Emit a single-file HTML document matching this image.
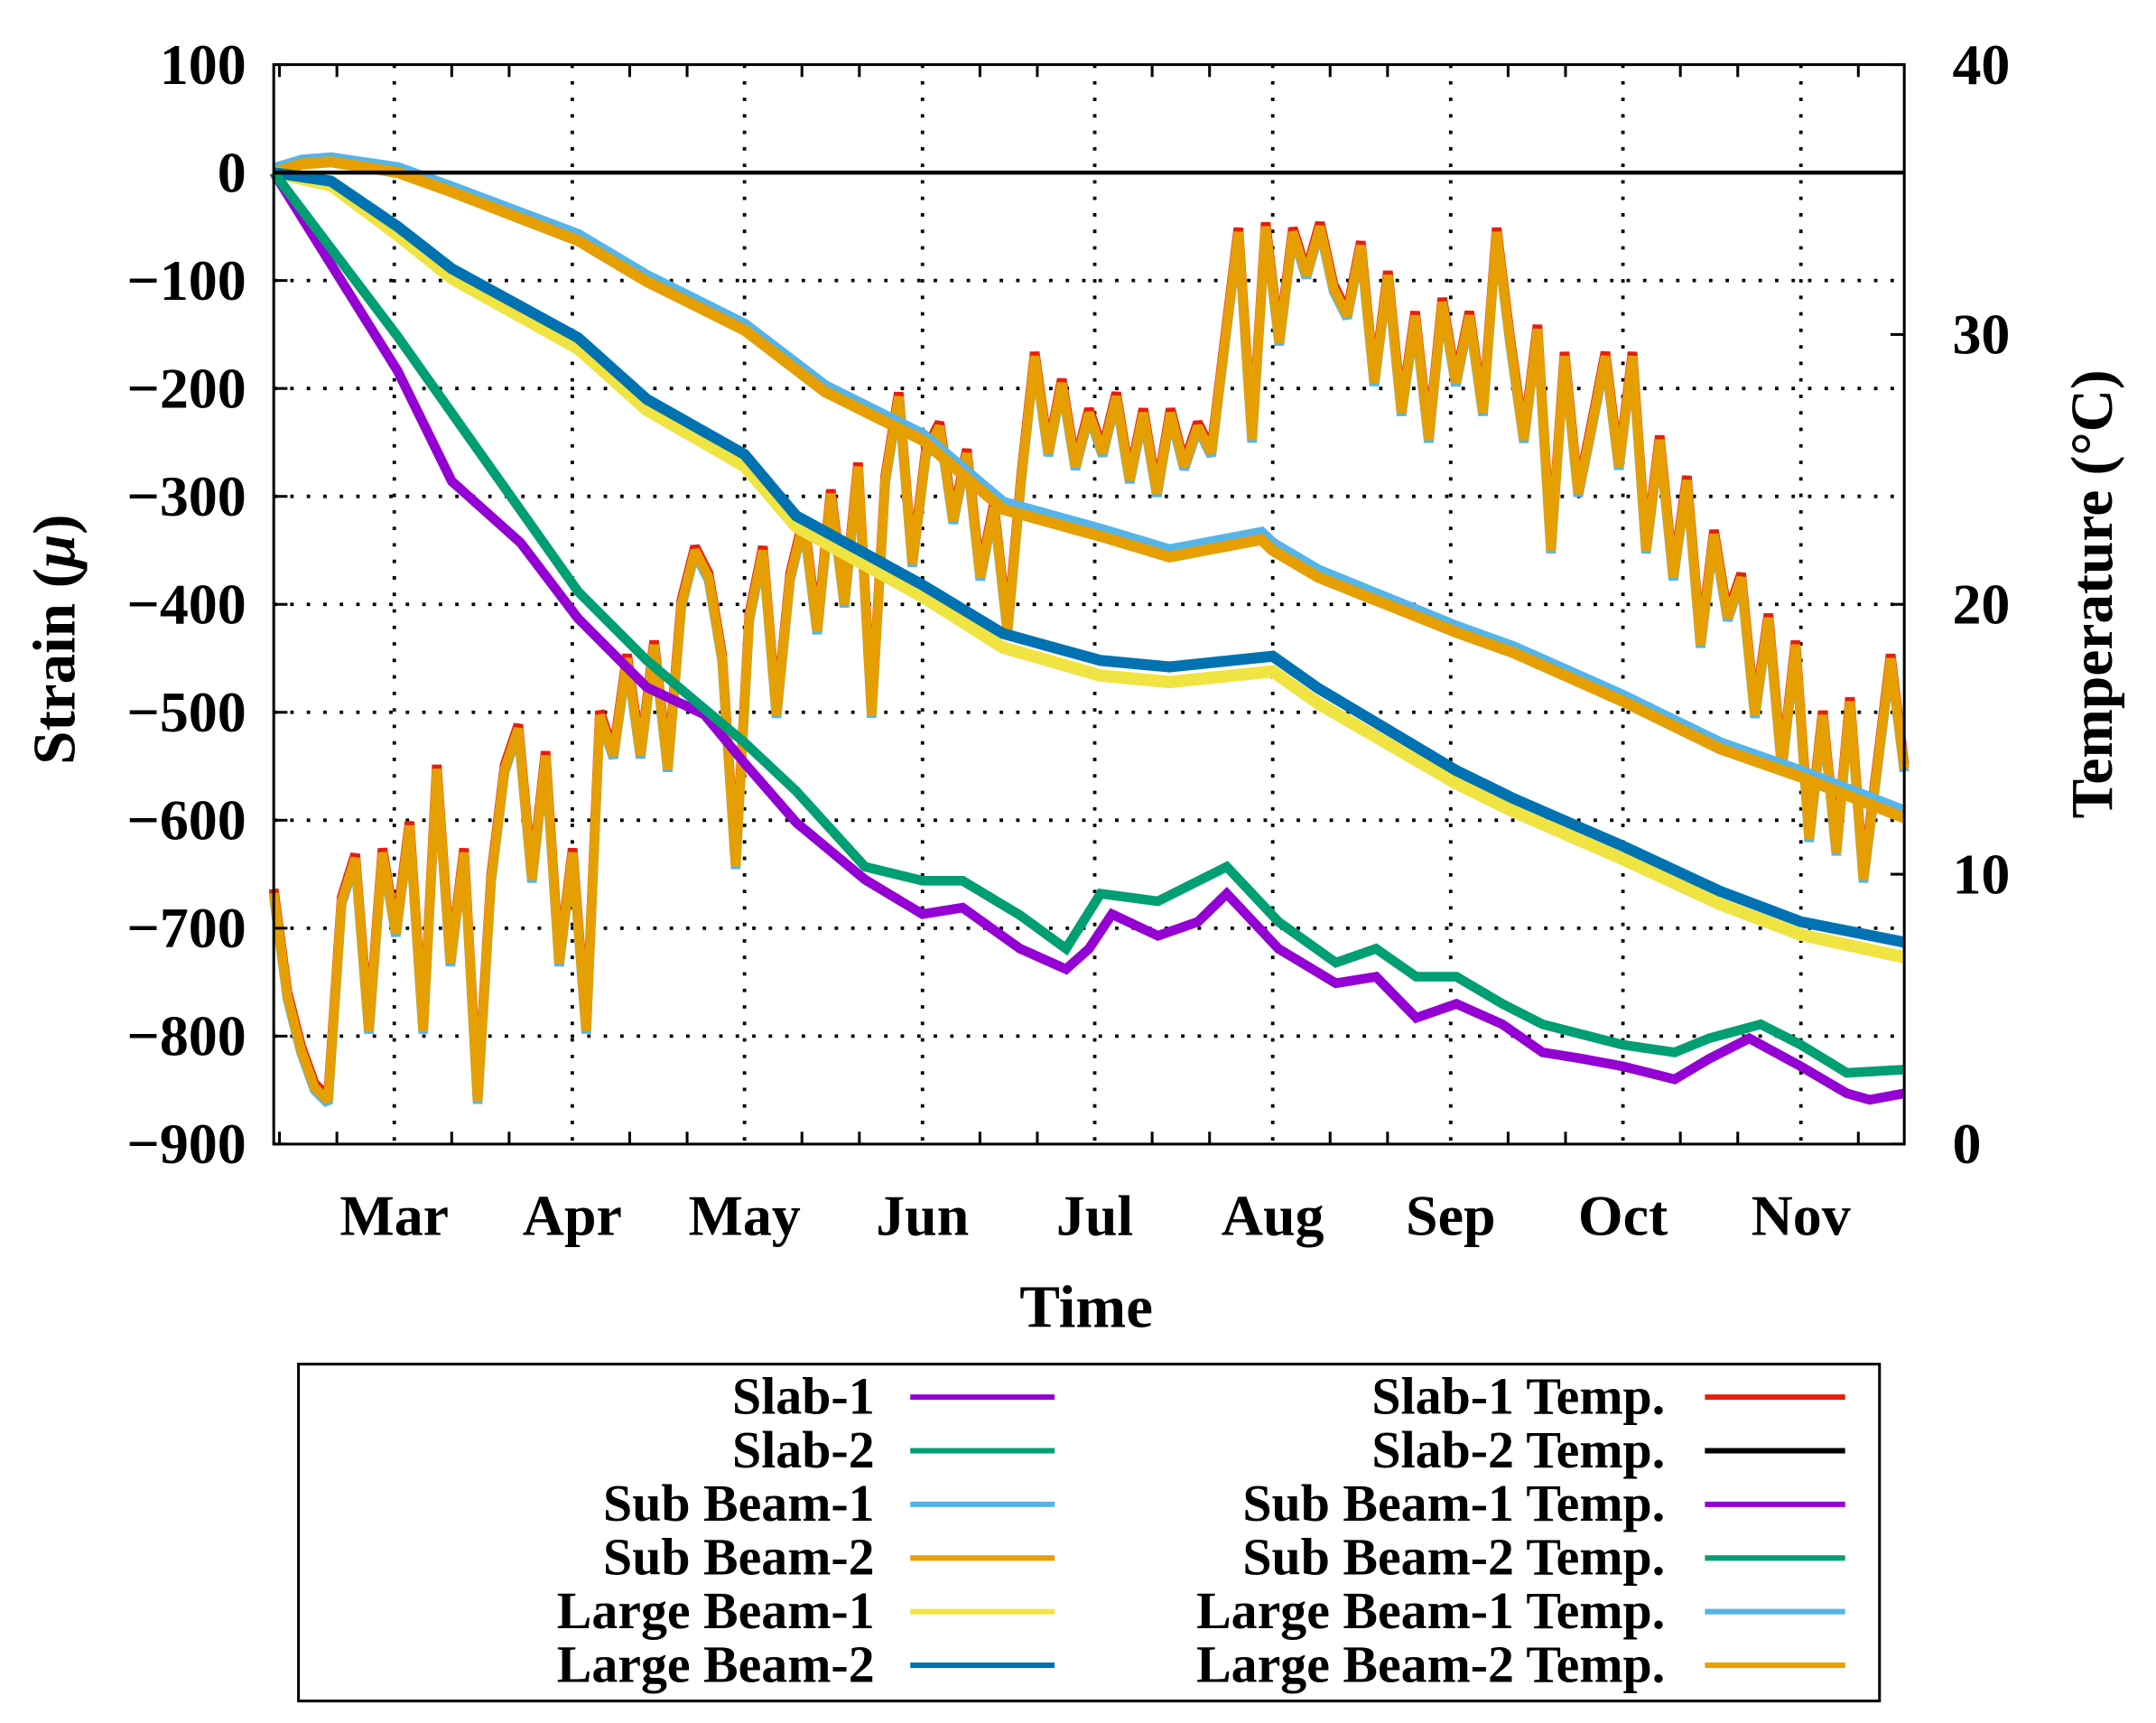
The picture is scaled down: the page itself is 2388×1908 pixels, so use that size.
<!DOCTYPE html>
<html><head><meta charset="utf-8"><style>
html,body{margin:0;padding:0;background:#fff}
svg{display:block}
text{font-family:"Liberation Serif",serif;font-weight:bold;fill:#000}
</style></head><body>
<svg id="chart" width="2388" height="1908" viewBox="0 0 1568 1253" xmlns="http://www.w3.org/2000/svg">
<g id="grid"></g>
<g id="temps"></g>
<g id="strains"></g>
<line x1="199" x2="1385" y1="125.5" y2="125.5" stroke="#000" stroke-width="3"/>
<rect x="199" y="47" width="1186" height="785" fill="none" stroke="#000" stroke-width="2"/>
<g id="axes"></g>
<text x="790" y="965" font-size="44" text-anchor="middle">Time</text>
<text transform="translate(54,465) rotate(-90)" font-size="44" text-anchor="middle">Strain (<tspan font-style="italic">μ</tspan>)</text>
<text transform="translate(1536,432) rotate(-90)" font-size="43" text-anchor="middle">Temperature (°C)</text>
<g id="legend">
<rect x="217" y="992" width="1150" height="245" fill="#fff" stroke="#000" stroke-width="2"/>
</g>
</svg>
<script>
// ---- data ----
const monthLabels = ["Mar","Apr","May","Jun","Jul","Aug","Sep","Oct","Nov"];
const monthDays = [21,52,82,113,143,174,205,235,266];
const strainTicks = [100,0,-100,-200,-300,-400,-500,-600,-700,-800,-900];
const tempTicks = [40,30,20,10,0];

const slab1Days = [0,21.6,31,43,53,65,75,82,91,103,113,120,130,138,142,146,154,161,166,175,185,192,199,206,214,221,228,235,244,250,257,266,274,278,284];
const slab1Vals = [0,-184,-286,-343,-413,-477,-502,-547,-602,-655,-687,-681,-719,-738,-719,-687,-707,-694,-668,-719,-751,-745,-783,-770,-789,-815,-821,-828,-840,-821,-802,-828,-853,-859,-853];
const slab2Days = [0,21.6,53,65,82,91,103,113,120,130,138,144,154,166,175,185,192,199,206,214,221,235,244,250,259,266,274,284];
const slab2Vals = [0,-152,-388,-452,-528,-573,-643,-656,-656,-688,-719,-668,-675,-643,-694,-732,-719,-745,-745,-770,-789,-808,-815,-802,-789,-808,-834,-831];
const lbDays = [0,10,21.6,31,53,65,82,91,113,127,144,156,174,182,206,216,235,252,266,284];
const lb2Vals = [0,-8,-50,-89,-153,-210,-261,-318,-382,-427,-452,-458,-448,-478,-554,-580,-624,-666,-694,-713];
const lb1Vals = [0,-12,-58,-98,-163,-220,-272,-328,-393,-440,-466,-472,-462,-492,-566,-592,-636,-678,-706,-727];
const sbDays = [0,5,10,21.6,31,53,65,82,96,113,127,144,156,172,174,182,206,216,235,252,266,284];
const sb2Vals = [0,8,10,0,-18,-63,-101,-146,-203,-248,-312,-337,-356,-340,-350,-375,-426,-445,-490,-534,-560,-598];
const sb1Vals = [3,11,13,4,-14,-58,-96,-141,-198,-243,-306,-331,-350,-334,-344,-369,-421,-440,-485,-529,-555,-592];
const tempVals = [9.3,5.5,3.5,2.1,1.6,9.0,10.6,4.2,10.8,7.8,11.8,4.2,13.9,6.7,10.8,1.6,9.8,13.9,15.4,9.8,14.4,6.7,10.8,4.2,15.9,14.4,18.0,14.4,18.5,13.9,20.0,22.0,21.0,18.0,10.3,19.5,22.0,15.9,21.0,23.1,19.0,24.1,20.0,25.1,15.9,24.6,27.7,21.5,25.6,26.6,23.1,25.6,21.0,23.6,19.0,24.6,29.2,25.6,28.2,25.1,27.1,25.6,27.7,24.6,27.1,24.1,27.1,25.1,26.6,25.6,29.7,33.8,26.1,34.0,29.7,33.8,32.2,34.0,31.7,30.7,33.3,28.2,32.2,27.1,30.7,26.1,31.2,28.2,30.7,27.1,33.8,29.7,26.1,30.2,22.0,29.2,24.1,26.6,29.2,25.1,29.2,22.0,26.1,21.0,24.6,18.5,22.6,19.5,21.0,15.9,19.5,13.9,18.5,11.3,15.9,10.8,16.4,9.8,13.9,18.0,13.9];
const legendLeft = ["Slab-1","Slab-2","Sub Beam-1","Sub Beam-2","Large Beam-1","Large Beam-2"];
const legendLeftColors = ["#9400d3","#009e73","#56b4e9","#e69f00","#f0e442","#0072b2"];
const legendRight = ["Slab-1 Temp.","Slab-2 Temp.","Sub Beam-1 Temp.","Sub Beam-2 Temp.","Large Beam-1 Temp.","Large Beam-2 Temp."];
const legendRightColors = ["#e51e10","#000000","#9400d3","#009e73","#56b4e9","#e69f00"];

// ---- scales ----
const X0=199, X1=1385, Y0=47, Y1=832, DMAX=284;
const xs = d => X0 + d*(X1-X0)/DMAX;
const ys = v => Y0 + (100 - v)*(Y1-Y0)/1000;
const yt = t => Y1 - t*(Y1-Y0)/40;
const NS="http://www.w3.org/2000/svg";
function mk(tag, attrs, parent){const e=document.createElementNS(NS,tag);for(const k in attrs)e.setAttribute(k,attrs[k]);parent.appendChild(e);return e;}

const grid=document.getElementById('grid'), axes=document.getElementById('axes');
strainTicks.forEach(v=>{
  const y=ys(v);
  if(v<100&&v>-900&&v!==0){const g=mk('line',{x1:X0,x2:X1,y1:y,y2:y,stroke:'#000','stroke-width':2.5,'stroke-dasharray':'2.5 9.5'},grid);
  
  }
  const t=mk('line',{x1:X0,x2:X0+10,y1:y,y2:y,stroke:'#000','stroke-width':2},axes);
  
  
  const l=mk('text',{x:179,y:y+14,'font-size':42,'text-anchor':'end'},axes);
  l.textContent=(v<0?'\u2212'+(-v):String(v));
  
  
});
tempTicks.forEach(v=>{
  const y=yt(v);
  const t=mk('line',{x1:X1-10,x2:X1,y1:y,y2:y,stroke:'#000','stroke-width':2},axes);
  
  
  const l=mk('text',{x:1420,y:y+14,'font-size':42},axes);
  l.textContent=String(v);
  
  
});
monthDays.forEach((d,i)=>{
  const x=xs(d);
  const g=mk('line',{x1:x,x2:x,y1:Y0,y2:Y1,stroke:'#000','stroke-width':2.5,'stroke-dasharray':'2.5 9.5'},grid);
  
  
  const l=mk('text',{x:x,y:898,'font-size':42,'text-anchor':'middle'},axes);
  l.textContent=monthLabels[i];
  
  
});
[0].concat(monthDays).forEach(d=>{
  [10,20].forEach(o=>{
    const md = d===0 ? monthDays[0]-o : d+o;
    if(md>0&&md<DMAX){
      const x=xs(md);
      const a=mk('line',{x1:x,x2:x,y1:Y1,y2:Y1-9,stroke:'#000','stroke-width':2},axes);
      
      
      const b=mk('line',{x1:x,x2:x,y1:Y0,y2:Y0+9,stroke:'#000','stroke-width':2},axes);
      
      
    }});
});

// ---- series ----
function poly(days, vals, ymap, color, w, parent, name){
  const pts=days.map((d,i)=>xs(d).toFixed(1)+','+ymap(vals[i]).toFixed(1)).join(' ');
  const p=mk('polyline',{points:pts,fill:'none',stroke:color,'stroke-width':w,'stroke-linejoin':'miter','stroke-miterlimit':2},parent);
  
  
}
const tempDays = tempVals.map((v,i)=>i*DMAX/(tempVals.length-1));
const temps=document.getElementById('temps');
poly(tempDays,tempVals,t=>yt(t)+2,'#56b4e9',7,temps,'large-beam-1-temp-line');
poly(tempDays,tempVals,t=>yt(t)-3,'#e51e10',7,temps,'slab-1-temp-line');
poly(tempDays,tempVals,yt,'#e69f00',7,temps,'large-beam-2-temp-line');

const strains=document.getElementById('strains');
poly(sbDays,sb1Vals,ys,'#56b4e9',9,strains,'sub-beam-1-line');
poly(sbDays,sb2Vals,ys,'#e69f00',8,strains,'sub-beam-2-line');
poly(lbDays,lb1Vals,ys,'#f0e442',9,strains,'large-beam-1-line');
poly(lbDays,lb2Vals,ys,'#0072b2',8,strains,'large-beam-2-line');
poly(slab1Days,slab1Vals,ys,'#9400d3',7,strains,'slab-1-line');
poly(slab2Days,slab2Vals,ys,'#009e73',7,strains,'slab-2-line');

// ---- legend ----
const lg=document.getElementById('legend');
const rowsY=[1016,1055,1094,1133,1172,1211];
legendLeft.forEach((s,i)=>{
  const t=mk('text',{x:636,y:rowsY[i]+12,'font-size':38,'text-anchor':'end'},lg);
  t.textContent=s;
  
  
  const l=mk('line',{x1:662,x2:767,y1:rowsY[i],y2:rowsY[i],stroke:legendLeftColors[i],'stroke-width':4},lg);
  
  
});
legendRight.forEach((s,i)=>{
  const t=mk('text',{x:1211,y:rowsY[i]+12,'font-size':38,'text-anchor':'end'},lg);
  t.textContent=s;
  
  
  const l=mk('line',{x1:1240,x2:1342,y1:rowsY[i],y2:rowsY[i],stroke:legendRightColors[i],'stroke-width':4},lg);
  
  
});
</script>
</body></html>
